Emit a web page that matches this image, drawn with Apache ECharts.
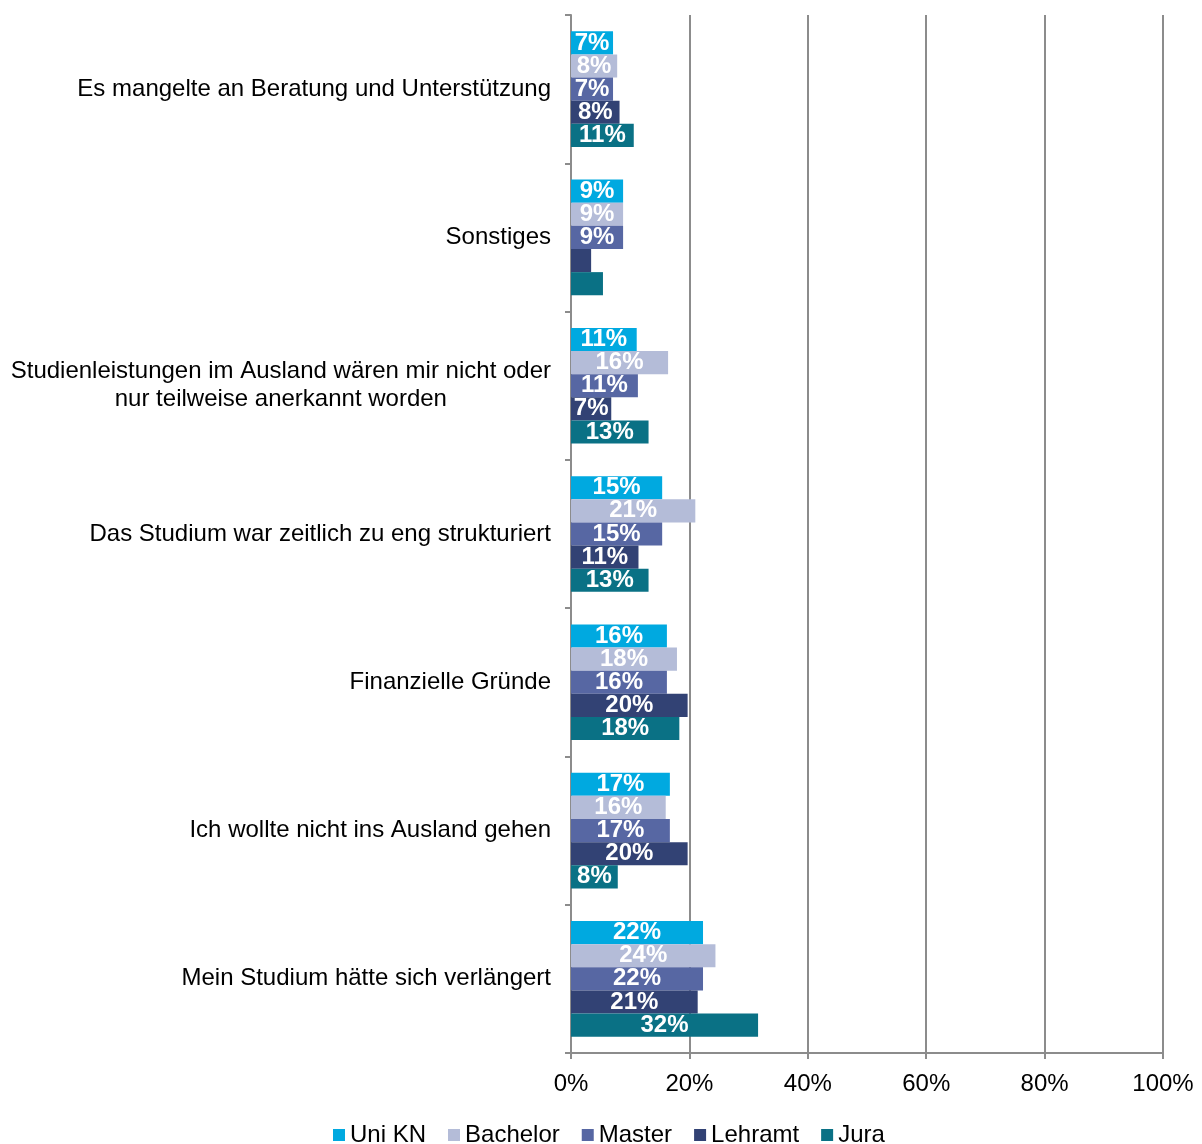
<!DOCTYPE html>
<html><head><meta charset="utf-8">
<script src="https://cdn.jsdelivr.net/npm/echarts@6/dist/echarts.min.js"></script>
<style>html,body{margin:0;padding:0;background:#fff}#c{width:1202px;height:1144px}</style>
</head><body><div id="c"></div>
<script>
const categories = [
  "Es mangelte an Beratung und Unterstützung",
  "Sonstiges",
  "Studienleistungen im Ausland wären mir nicht oder\nnur teilweise anerkannt worden",
  "Das Studium war zeitlich zu eng strukturiert",
  "Finanzielle Gründe",
  "Ich wollte nicht ins Ausland gehen",
  "Mein Studium hätte sich verlängert"
];
const seriesNames = ["Uni KN", "Bachelor", "Master", "Lehramt", "Jura"];
const uniKN    = [7.1, 8.8, 11.1, 15.4, 16.2, 16.7, 22.3];
const bachelor = [7.8, 8.8, 16.4, 21.0, 17.9, 16.0, 24.4];
const master   = [7.1, 8.8, 11.3, 15.4, 16.2, 16.7, 22.3];
const lehramt  = [8.2, 3.4, 6.8, 11.4, 19.7, 19.7, 21.4];
const jura     = [10.6, 5.4, 13.1, 13.1, 18.3, 7.9, 31.6];
const xTicks = [0, 20, 40, 60, 80, 100];
const colors = ["#00A9E0", "#B4BCD8", "#5767A3", "#324274", "#0A7185"];
const values = [uniKN, bachelor, master, lehramt, jura];

const FONT = "'Liberation Sans', Arial, sans-serif";
const FS = 24;
const chart = echarts.init(document.getElementById('c'));
chart.setOption({
  animation: false,
  color: colors,
  grid: { left: 571, right: 39, top: 15, bottom: 91, containLabel: false },
  legend: {
    left: 328, top: 1118, itemWidth: 12, itemHeight: 12, itemGap: 22,
    icon: 'rect',
    textStyle: { fontFamily: FONT, fontSize: FS, color: '#000' },
    data: seriesNames
  },
  xAxis: {
    type: 'value', min: 0, max: 100, interval: 20,
    axisLine: { show: true, lineStyle: { color: '#8c8c8c', width: 2 } },
    axisTick: { show: true, length: 6, lineStyle: { color: '#8c8c8c', width: 2 } },
    splitLine: { show: true, lineStyle: { color: '#8c8c8c', width: 2 } },
    axisLabel: {
      margin: 19, fontFamily: FONT, fontSize: FS, color: '#000',
      formatter: v => xTicks.includes(v) ? v + '%' : ''
    }
  },
  yAxis: {
    type: 'category', inverse: true, data: categories,
    axisLine: { show: true, lineStyle: { color: '#8c8c8c', width: 2 } },
    axisTick: { show: true, length: 6, lineStyle: { color: '#8c8c8c', width: 2 } },
    axisLabel: {
      margin: 20, fontFamily: FONT, fontSize: FS, color: '#000', lineHeight: 28,
      formatter: v => v.split('\n').map(s => '{c|' + s + '}').join('\n'),
      rich: { c: { align: 'center', fontFamily: FONT, fontSize: FS, color: '#000', lineHeight: 28 } }
    }
  },
  series: seriesNames.map((name, i) => ({
    name, type: 'bar', data: values[i],
    barGap: '0%', barCategoryGap: '22%',
    itemStyle: { color: colors[i] },
    label: {
      show: true, position: 'inside', color: '#fff', fontFamily: FONT,
      fontSize: FS, fontWeight: 'bold',
      formatter: p => p.value < 6 ? '' : Math.round(p.value) + '%'
    }
  }))
});
</script></body></html>
